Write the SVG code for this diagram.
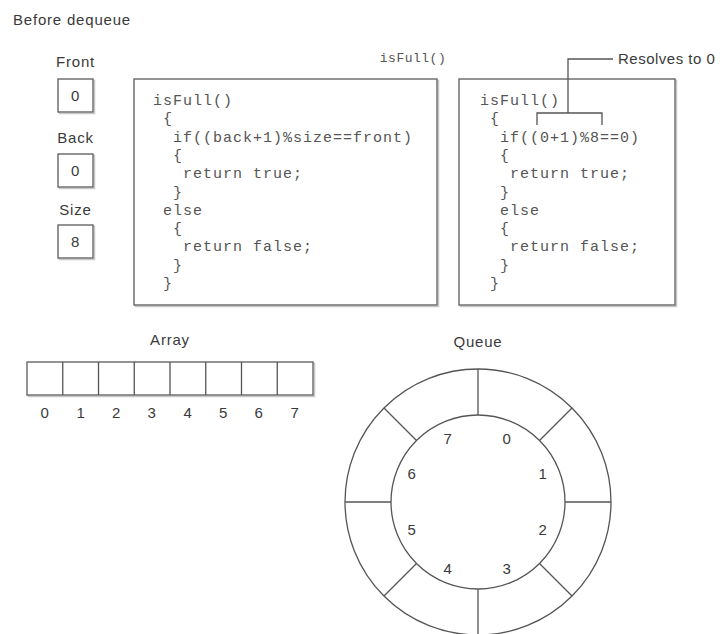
<svg xmlns="http://www.w3.org/2000/svg" width="723" height="634" viewBox="0 0 723 634">
<style>
.lbl{font-family:"Liberation Sans",Arial,sans-serif;font-size:15px;letter-spacing:0.8px;fill:#3a3a3a}
.mid{text-anchor:middle}
.code{font-family:"Liberation Mono","Courier New",monospace;font-size:15px;letter-spacing:1px;fill:#555}
.box{fill:#fff;stroke:#666;stroke-width:1.4}
.shadow{fill:none;stroke:#c8c8c8;stroke-width:1.5}
.ln{fill:none;stroke:#555;stroke-width:1.3}
</style>
<rect width="723" height="634" fill="#fff"/>
<text class="lbl" x="13" y="25">Before dequeue</text>

<g id="front">
<text class="lbl mid" x="75.5" y="67">Front</text>
<rect class="shadow" x="59.5" y="80.5" width="35" height="33"/>
<rect class="box" x="58" y="79" width="35" height="33"/>
<text class="lbl mid" x="75.5" y="101">0</text>
</g>
<g id="back">
<text class="lbl mid" x="75.5" y="143">Back</text>
<rect class="shadow" x="59.5" y="155.5" width="35" height="33"/>
<rect class="box" x="58" y="154" width="35" height="33"/>
<text class="lbl mid" x="75.5" y="176">0</text>
</g>
<g id="size">
<text class="lbl mid" x="75.5" y="215">Size</text>
<rect class="shadow" x="59.5" y="226.5" width="35" height="33"/>
<rect class="box" x="58" y="225" width="35" height="33"/>
<text class="lbl mid" x="75.5" y="247">8</text>
</g>

<g id="code-generic">
<rect class="shadow" x="135.5" y="80.5" width="303" height="226"/>
<rect class="box" x="134" y="79" width="303" height="226"/>
<text class="code" x="153" y="105">isFull()</text>
<text class="code" x="163" y="123.3">{</text>
<text class="code" x="173" y="141.6">if((back+1)%size==front)</text>
<text class="code" x="173" y="159.9">{</text>
<text class="code" x="183" y="178.2">return true;</text>
<text class="code" x="173" y="196.5">}</text>
<text class="code" x="163" y="214.8">else</text>
<text class="code" x="173" y="233.1">{</text>
<text class="code" x="183" y="251.4">return false;</text>
<text class="code" x="173" y="269.7">}</text>
<text class="code" x="163" y="288">}</text>
</g>

<g id="isfull-label">
<text class="code mid" x="413" y="62" style="font-size:13px;letter-spacing:0.5px">isFull()</text>
</g>

<g id="code-resolved">
<rect class="shadow" x="460.5" y="80.5" width="216" height="226"/>
<rect class="box" x="459" y="79" width="216" height="226"/>
<text class="code" x="480" y="105">isFull()</text>
<text class="code" x="490" y="123.3">{</text>
<text class="code" x="500" y="141.6">if((0+1)%8==0)</text>
<text class="code" x="500" y="159.9">{</text>
<text class="code" x="510" y="178.2">return true;</text>
<text class="code" x="500" y="196.5">}</text>
<text class="code" x="500" y="214.8">else</text>
<text class="code" x="500" y="233.1">{</text>
<text class="code" x="510" y="251.4">return false;</text>
<text class="code" x="500" y="269.7">}</text>
<text class="code" x="490" y="288">}</text>
</g>

<g id="resolves-label">
<text class="lbl" x="618" y="64" style="letter-spacing:0.5px">Resolves to 0</text>
</g>

<g id="connectors">
<path class="ln" d="M537,125 V113 H602 V125"/>
<path class="ln" d="M568,113 V59 H613"/>
</g>

<g id="array">
<text class="lbl mid" x="170" y="345">Array</text>
<rect class="shadow" x="28.5" y="363.5" width="286" height="33"/>
<rect class="box" x="27" y="362" width="286" height="33"/>
<path class="ln" d="M62.75,362V395M98.5,362V395M134.25,362V395M170,362V395M205.75,362V395M241.5,362V395M277.25,362V395"/>
<text class="lbl mid" x="45" y="418">0</text>
<text class="lbl mid" x="81" y="418">1</text>
<text class="lbl mid" x="116.5" y="418">2</text>
<text class="lbl mid" x="152" y="418">3</text>
<text class="lbl mid" x="188" y="418">4</text>
<text class="lbl mid" x="223.5" y="418">5</text>
<text class="lbl mid" x="259" y="418">6</text>
<text class="lbl mid" x="295" y="418">7</text>
</g>

<g id="queue">
<text class="lbl mid" x="478" y="347">Queue</text>
<circle class="ln" cx="478" cy="502" r="133"/>
<circle class="ln" cx="478" cy="502" r="87"/>
<path class="ln" d="M565,502H611M391,502H345M478,415V369M478,589V635M539.5,563.5L572,596M416.5,563.5L384,596M416.5,440.5L384,408M539.5,440.5L572,408"/>
<text class="lbl mid" x="507" y="443.5">0</text>
<text class="lbl mid" x="543" y="479">1</text>
<text class="lbl mid" x="543" y="534.5">2</text>
<text class="lbl mid" x="507" y="573.5">3</text>
<text class="lbl mid" x="448" y="573.5">4</text>
<text class="lbl mid" x="412" y="534.5">5</text>
<text class="lbl mid" x="412" y="479">6</text>
<text class="lbl mid" x="448" y="443.5">7</text>
</g>
</svg>
